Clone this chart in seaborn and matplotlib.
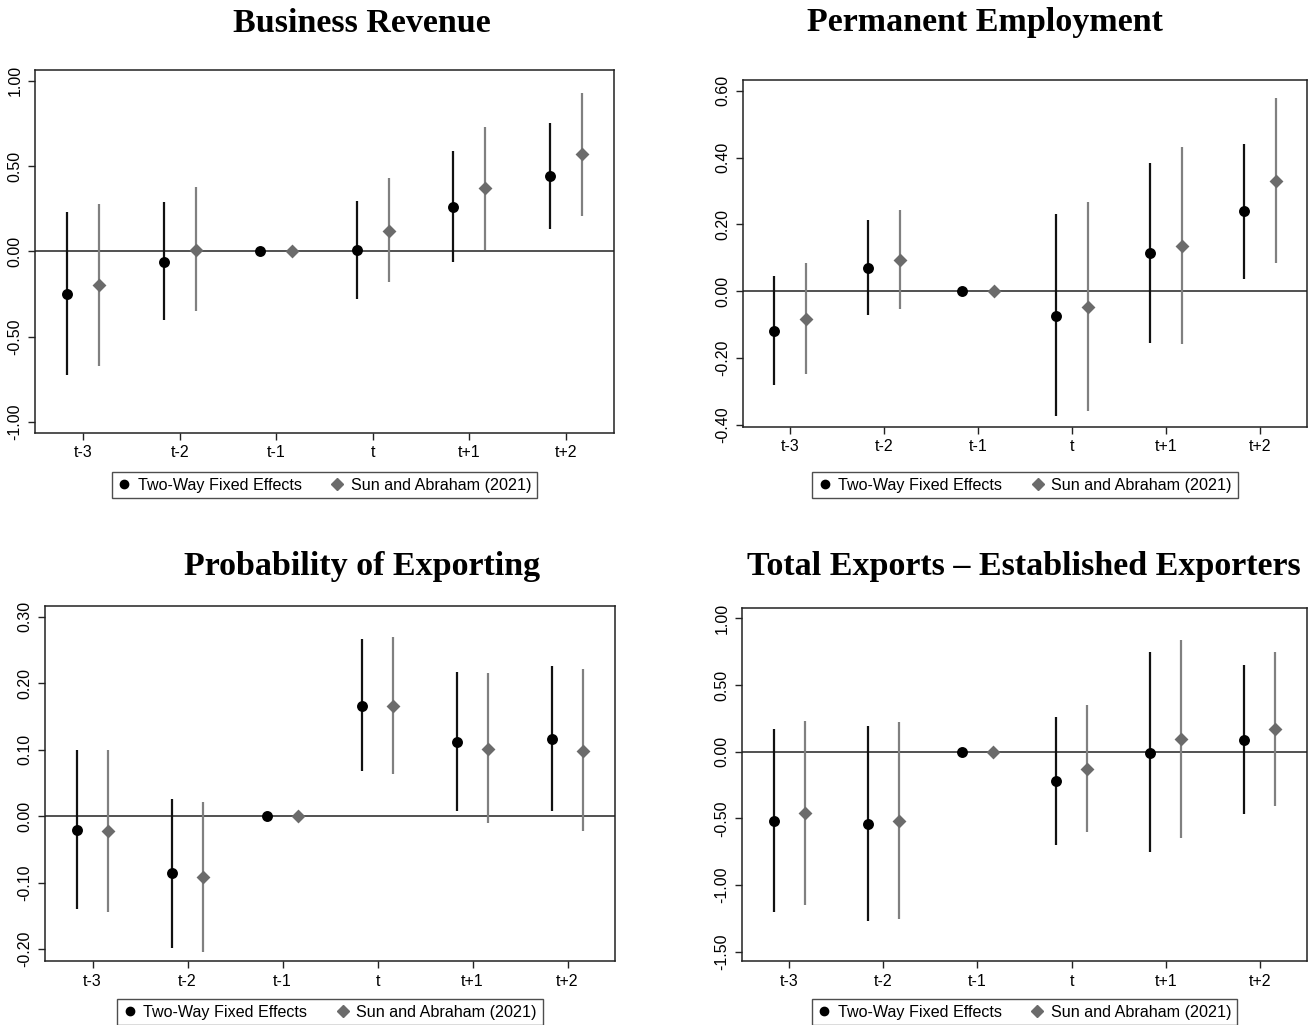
import matplotlib
matplotlib.use("Agg")
import matplotlib.pyplot as plt
from matplotlib.lines import Line2D
import numpy as np
import pandas as pd
import seaborn as sns

# Event-time labels
events = ["t-3", "t-2", "t-1", "t", "t+1", "t+2"]
estimators = ["Two-Way Fixed Effects", "Sun and Abraham (2021)"]

# Business revenue
revenue_twfe = [-0.25, -0.06, 0.0, 0.007, 0.26, 0.44]
revenue_twfe_lo = [-0.725, -0.40, 0.0, -0.28, -0.06, 0.13]
revenue_twfe_hi = [0.228, 0.29, 0.0, 0.295, 0.59, 0.75]
revenue_sa = [-0.20, 0.01, 0.0, 0.12, 0.37, 0.57]
revenue_sa_lo = [-0.67, -0.35, 0.0, -0.18, 0.01, 0.21]
revenue_sa_hi = [0.28, 0.38, 0.0, 0.43, 0.73, 0.93]

# Permanent employment
employment_twfe = [-0.12, 0.07, 0.0, -0.073, 0.114, 0.239]
employment_twfe_lo = [-0.28, -0.072, 0.0, -0.372, -0.155, 0.036]
employment_twfe_hi = [0.045, 0.213, 0.0, 0.231, 0.385, 0.441]
employment_sa = [-0.083, 0.093, 0.0, -0.046, 0.136, 0.331]
employment_sa_lo = [-0.247, -0.052, 0.0, -0.357, -0.159, 0.086]
employment_sa_hi = [0.085, 0.243, 0.0, 0.266, 0.432, 0.577]

# Probability of exporting
export_prob_twfe = [-0.021, -0.086, 0.0, 0.166, 0.111, 0.116]
export_prob_twfe_lo = [-0.140, -0.198, 0.0, 0.068, 0.007, 0.007]
export_prob_twfe_hi = [0.099, 0.025, 0.0, 0.266, 0.216, 0.226]
export_prob_sa = [-0.022, -0.092, 0.0, 0.166, 0.101, 0.098]
export_prob_sa_lo = [-0.145, -0.204, 0.0, 0.064, -0.011, -0.022]
export_prob_sa_hi = [0.100, 0.021, 0.0, 0.269, 0.215, 0.221]

# Total exports, established exporters
exports_twfe = [-0.52, -0.54, 0.0, -0.22, -0.007, 0.088]
exports_twfe_lo = [-1.20, -1.27, 0.0, -0.70, -0.755, -0.47]
exports_twfe_hi = [0.17, 0.19, 0.0, 0.26, 0.75, 0.65]
exports_sa = [-0.46, -0.52, 0.0, -0.13, 0.098, 0.168]
exports_sa_lo = [-1.15, -1.25, 0.0, -0.60, -0.645, -0.41]
exports_sa_hi = [0.23, 0.225, 0.0, 0.35, 0.84, 0.75]

# Panel titles and y-axis ticks
titles = ["Business Revenue", "Permanent Employment",
          "Probability of Exporting", "Total Exports \u2013 Established Exporters"]
yticks_list = [[-1.0, -0.5, 0.0, 0.5, 1.0],
               [-0.4, -0.2, 0.0, 0.2, 0.4, 0.6],
               [-0.2, -0.1, 0.0, 0.1, 0.2, 0.3],
               [-1.5, -1.0, -0.5, 0.0, 0.5, 1.0]]


def panel_frame(tw, tw_lo, tw_hi, sa, sa_lo, sa_hi):
    rows = []
    for i, ev in enumerate(events):
        rows.append(dict(event=ev, idx=i, estimator=estimators[0],
                         coef=tw[i], lo=tw_lo[i], hi=tw_hi[i]))
        rows.append(dict(event=ev, idx=i, estimator=estimators[1],
                         coef=sa[i], lo=sa_lo[i], hi=sa_hi[i]))
    return pd.DataFrame(rows)


panels = [
    panel_frame(revenue_twfe, revenue_twfe_lo, revenue_twfe_hi,
                revenue_sa, revenue_sa_lo, revenue_sa_hi),
    panel_frame(employment_twfe, employment_twfe_lo, employment_twfe_hi,
                employment_sa, employment_sa_lo, employment_sa_hi),
    panel_frame(export_prob_twfe, export_prob_twfe_lo, export_prob_twfe_hi,
                export_prob_sa, export_prob_sa_lo, export_prob_sa_hi),
    panel_frame(exports_twfe, exports_twfe_lo, exports_twfe_hi,
                exports_sa, exports_sa_lo, exports_sa_hi),
]

sns.set_style("ticks")
plt.rcParams["font.family"] = ["Liberation Sans Narrow", "Liberation Sans", "DejaVu Sans"]
plt.rcParams["axes.unicode_minus"] = False
for key in ["text.color", "axes.labelcolor", "xtick.color", "ytick.color"]:
    plt.rcParams[key] = "black"

W, H = 1310, 1025
fig = plt.figure(figsize=(W / 100, H / 100), dpi=100)

# (left, right, top, bottom) in pixels
boxes = [(35, 614, 70, 433), (743, 1307, 80, 427),
         (45, 615, 606, 961), (742, 1307, 608, 961)]
ylims = [(-1.065, 1.063), (-0.406, 0.632), (-0.218, 0.316), (-1.568, 1.077)]
title_pos = [(362, 23), (985, 23), (362, 567), (1024, 567)]
legend_tops = [472, 472, 999, 999]

offset = {estimators[0]: -0.165, estimators[1]: 0.165}
line_col = {estimators[0]: "#111111", estimators[1]: "#808080"}
pt_col = {estimators[0]: "#000000", estimators[1]: "#6b6b6b"}
markers = {estimators[0]: "o", estimators[1]: "D"}
sizes = {estimators[0]: 62, estimators[1]: 50}

for k, df in enumerate(panels):
    l, r, t, b = boxes[k]
    ax = fig.add_axes([l / W, 1 - b / H, (r - l) / W, (b - t) / H])
    df = df.copy()
    df["x"] = df["idx"] + df["estimator"].map(offset)

    ax.axhline(0, color="#222222", lw=1.1, zorder=1)
    for est in estimators:
        sub = df[df["estimator"] == est]
        ax.vlines(sub["x"], sub["lo"], sub["hi"], color=line_col[est], lw=1.6, zorder=2)
        sns.scatterplot(data=sub, x="x", y="coef", ax=ax, marker=markers[est],
                        color=pt_col[est], s=sizes[est], linewidth=0, zorder=3,
                        legend=False)

    ax.set_xlim(-0.5, 5.5)
    ax.set_ylim(*ylims[k])
    ax.set_xticks(range(len(events)))
    ax.set_xticklabels(events, fontsize=11.5)
    ax.set_yticks(yticks_list[k])
    ax.set_yticklabels([f"{v:.2f}" for v in yticks_list[k]], fontsize=11.5,
                       rotation=90, va="center")
    ax.set_xlabel("")
    ax.set_ylabel("")
    ax.tick_params(axis="both", direction="out", length=5, width=1.0, color="#222222", pad=4)
    for sp in ax.spines.values():
        sp.set_visible(True)
        sp.set_linewidth(1.1)
        sp.set_color("#222222")

    tx, ty = title_pos[k]
    fig.text(tx / W, 1 - ty / H, titles[k], ha="center", va="center", color="black",
             fontsize=24.5, fontweight="bold", family=["Liberation Serif", "DejaVu Serif"])

    handles = [
        Line2D([], [], linestyle="none", marker="o", color="#000000", markersize=6),
        Line2D([], [], linestyle="none", marker="D", color="#6b6b6b", markersize=6),
    ]
    leg_y = 1 - legend_tops[k] / H
    leg = fig.legend(handles, estimators, loc="upper center",
                     bbox_to_anchor=((l + r) / 2 / W, leg_y), ncol=2,
                     frameon=True, fancybox=False, fontsize=11.6,
                     handlelength=0.8, handletextpad=0.45, columnspacing=1.8,
                     borderpad=0.35, borderaxespad=0)
    leg.get_frame().set_edgecolor("#222222")
    leg.get_frame().set_linewidth(1.0)
    for txt in leg.get_texts():
        txt.set_color("black")

fig.savefig("out.png", dpi=100, facecolor="white")
